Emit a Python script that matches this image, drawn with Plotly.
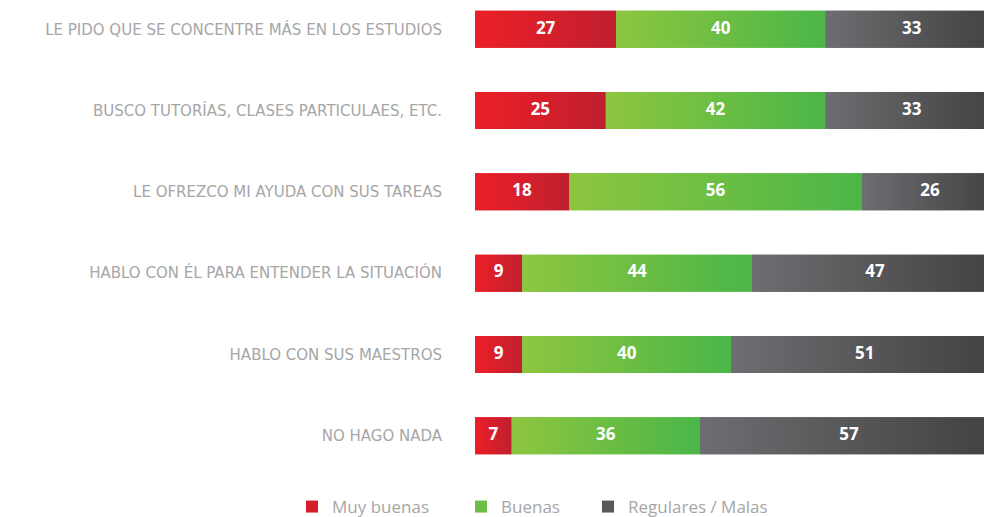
import plotly.graph_objects as go

categories = [
    "LE PIDO QUE SE CONCENTRE MÁS EN LOS ESTUDIOS",
    "BUSCO TUTORÍAS, CLASES PARTICULAES, ETC.",
    "LE OFREZCO MI AYUDA CON SUS TAREAS",
    "HABLO CON ÉL PARA ENTENDER LA SITUACIÓN",
    "HABLO CON SUS MAESTROS",
    "NO HAGO NADA",
]
muy_buenas = [27, 25, 18, 9, 9, 7]
buenas = [40, 42, 56, 44, 40, 36]
regulares_malas = [33, 33, 26, 47, 51, 57]

series = [
    ("Muy buenas", muy_buenas, "#ec1f27", "#c01f2f", "#d61f2b"),
    ("Buenas", buenas, "#8dc63f", "#4bb648", "#6cbe44"),
    ("Regulares / Malas", regulares_malas, "#6d6e71", "#414042", "#58595b"),
]

W, H = 984, 517

legend_names = ["legend", "legend2", "legend3"]
legend_px = [292, 461, 588]

y_pos = list(range(len(categories)))
half = 0.2275

fig = go.Figure()

base = [0] * len(categories)
bases = []
for k, (name, vals, c0, c1, cm) in enumerate(series):
    bases.append(list(base))
    fig.add_trace(go.Bar(
        y=y_pos, x=vals, base=list(base), orientation="h", name=name,
        marker=dict(color=cm, line=dict(width=0)), width=2 * half,
        legend=legend_names[k], hoverinfo="skip",
    ))
    base = [b + v for b, v in zip(base, vals)]

for (name, vals, c0, c1, cm), bs in zip(series, bases):
    for i, (v, b) in enumerate(zip(vals, bs)):
        x0, x1 = b, b + v
        fig.add_trace(go.Scatter(
            x=[x0, x1, x1, x0, x0],
            y=[i - half, i - half, i + half, i + half, i - half],
            mode="none", fill="toself",
            fillgradient=dict(type="horizontal", colorscale=[[0, c0], [1, c1]]),
            showlegend=False, hoverinfo="skip",
        ))

for (name, vals, c0, c1, cm), bs in zip(series, bases):
    fig.add_trace(go.Scatter(
        x=[b + v / 2 for b, v in zip(bs, vals)], y=y_pos,
        mode="text", text=[str(v) for v in vals],
        textfont=dict(family="Open Sans", size=17, color="white", weight="bold"),
        textposition="middle center", showlegend=False, hoverinfo="skip",
    ))

plot_left = 475
scale = 5.23  # px per percentage point (bars run past the right edge)
x_max = (W - plot_left) / scale

layout_legends = {}
for ln, px in zip(legend_names, legend_px):
    layout_legends[ln] = dict(
        xref="container", yref="container", x=px / W, y=(H - 507) / H,
        xanchor="left", yanchor="middle", orientation="h",
        font=dict(family="Open Sans", size=17, color="#a6a6a6"),
        bgcolor="rgba(0,0,0,0)", borderwidth=0, tracegroupgap=0,
    )

# plot area: row centres at 29 px + 81.3 px steps
plot_h = 465
span = plot_h / 81.3
pad = (span - 5) / 2

fig.update_layout(
    width=W, height=H,
    margin=dict(l=plot_left, r=0, t=0, b=H - plot_h, pad=0),
    paper_bgcolor="white", plot_bgcolor="white",
    barmode="overlay", showlegend=True,
    xaxis=dict(range=[0, x_max], visible=False, fixedrange=True),
    yaxis=dict(
        tickmode="array", tickvals=y_pos, ticktext=categories,
        range=[5 + pad, -pad], showgrid=False, zeroline=False, showline=False,
        ticks="", ticklabelstandoff=32,
        tickfont=dict(family="DejaVu Sans", size=15, color="#a6a6a6"),
        fixedrange=True,
    ),
    **layout_legends,
)

fig.write_html(
    "out.html",
    config={"displayModeBar": False, "staticPlot": True},
    post_script="document.body.style.margin='0';document.body.style.overflow='hidden';",
)
